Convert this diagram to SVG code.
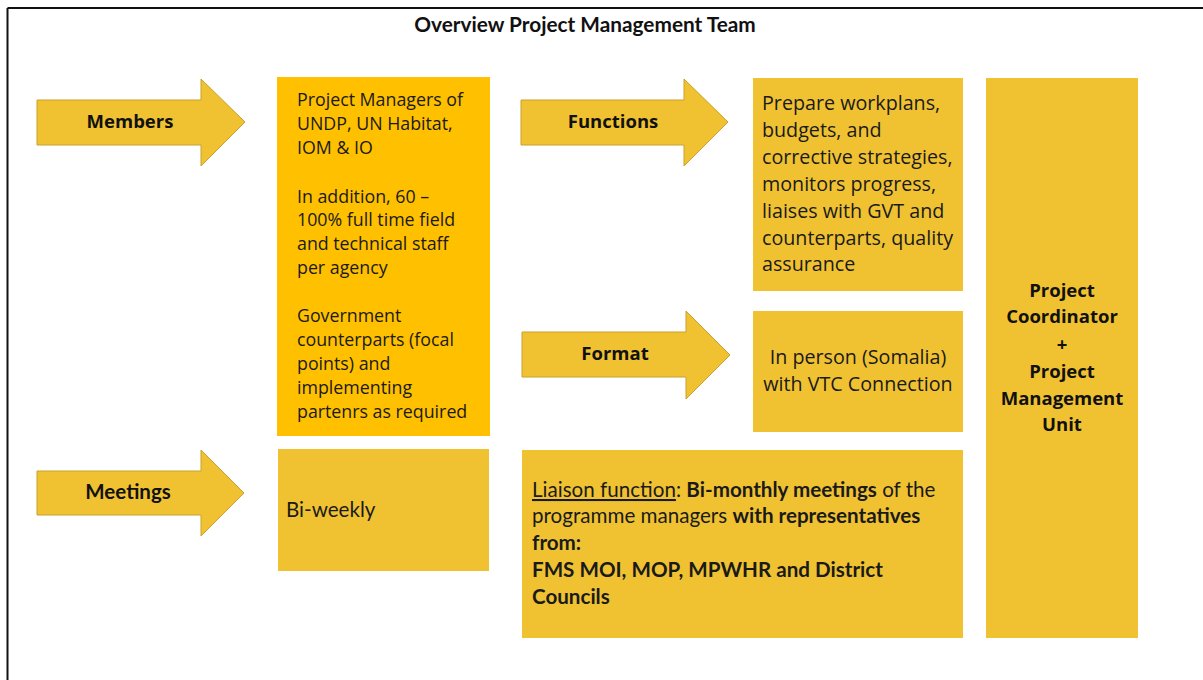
<svg xmlns="http://www.w3.org/2000/svg" width="1203" height="680" viewBox="0 0 1203 680">
<style>
.gold{fill:#F0C232}
.orange{fill:#FFC000}
.arrow{fill:#F0C232;stroke:#C9A12C;stroke-width:1}
.t{font-family:"Open Sans","Liberation Sans",sans-serif;font-size:17.8px;fill:#1a1a1a}
.tf{font-family:"Open Sans","Liberation Sans",sans-serif;font-size:19.7px;fill:#1a1a1a}
.c{font-family:Lato,"Liberation Sans",sans-serif;font-size:20.6px;fill:#1a1a1a}
.lbl{font-family:"Open Sans","Liberation Sans",sans-serif;font-size:18.5px;font-weight:bold;fill:#111;text-anchor:middle}
.pcu{font-family:"Open Sans","Liberation Sans",sans-serif;font-size:18.5px;font-weight:bold;fill:#111;text-anchor:middle}
.b{font-weight:bold}
</style>
<rect x="0" y="0" width="1203" height="680" fill="#ffffff"/>
<g id="frame">
<line x1="7.5" y1="8" x2="1203" y2="8" stroke="#111" stroke-width="2"/>
<line x1="7.5" y1="8" x2="7.5" y2="680" stroke="#111" stroke-width="2"/>
</g>
<text x="585" y="32" font-family="Lato,'Liberation Sans',sans-serif" font-size="20.8" font-weight="bold" fill="#111" text-anchor="middle">Overview Project Management Team</text>
<g id="connectors">
<polygon id="arrow-members" class="arrow" points="37,100 201,100 201,79 245,122 201,166 201,145 37,145"/>
<polygon id="arrow-functions" class="arrow" points="521,100 684,100 684,79 728,122 684,166 684,145 521,145"/>
<polygon id="arrow-format" class="arrow" points="522,332 686,332 686,311 730,355 686,399 686,377 522,377"/>
<polygon id="arrow-meetings" class="arrow" points="37,471 201,471 201,450 244,493 201,536 201,515 37,515"/>
</g>
<g id="members-label"><text class="lbl" x="130" y="128">Members</text></g>
<g id="functions-label"><text class="lbl" x="613" y="128">Functions</text></g>
<g id="format-label"><text class="lbl" x="615" y="360">Format</text></g>
<g id="meetings-label"><text x="128" y="499" font-family="Lato,'Liberation Sans',sans-serif" font-size="20.5" font-weight="bold" fill="#111" text-anchor="middle">Meetings</text></g>
<g id="members-box">
<rect class="orange" x="277" y="77" width="213" height="359"/>
<text class="t" x="297" y="106">Project Managers of</text>
<text class="t" x="297" y="130">UNDP, UN Habitat,</text>
<text class="t" x="297" y="154">IOM &amp; IO</text>
<text class="t" x="297" y="203">In addition, 60 –</text>
<text class="t" x="297" y="226">100% full time field</text>
<text class="t" x="297" y="250">and technical staff</text>
<text class="t" x="297" y="274">per agency</text>
<text class="t" x="297" y="322">Government</text>
<text class="t" x="297" y="346">counterparts (focal</text>
<text class="t" x="297" y="370">points) and</text>
<text class="t" x="297" y="394">implementing</text>
<text class="t" x="297" y="418">partenrs as required</text>
</g>
<g id="functions-box">
<rect class="gold" x="753" y="78" width="210" height="213"/>
<text class="tf" x="762" y="110">Prepare workplans,</text>
<text class="tf" x="762" y="137">budgets, and</text>
<text class="tf" x="762" y="164">corrective strategies,</text>
<text class="tf" x="762" y="191">monitors progress,</text>
<text class="tf" x="762" y="218">liaises with GVT and</text>
<text class="tf" x="762" y="245">counterparts, quality</text>
<text class="tf" x="762" y="271">assurance</text>
</g>
<g id="format-box">
<rect class="gold" x="753" y="311" width="210" height="121"/>
<text class="tf" x="858" y="364" text-anchor="middle">In person (Somalia)</text>
<text class="tf" x="858" y="391" text-anchor="middle">with VTC Connection</text>
</g>
<g id="meetings-box">
<rect class="gold" x="278" y="449" width="211" height="122"/>
<text class="c" x="286" y="517">Bi-weekly</text>
</g>
<g id="liaison-box">
<rect class="gold" x="522" y="450" width="441" height="188"/>
<text class="c" x="532" y="497"><tspan text-decoration="underline">Liaison function</tspan>: <tspan class="b">Bi-monthly meetings</tspan> of the</text>
<text class="c" x="532" y="523">programme managers <tspan class="b">with representatives</tspan></text>
<text class="c b" x="532" y="550">from:</text>
<text class="c b" x="532" y="577">FMS MOI, MOP, MPWHR and District</text>
<text class="c b" x="532" y="604">Councils</text>
</g>
<g id="pcu-box">
<rect class="gold" x="986" y="78" width="152" height="560"/>
<text class="pcu" x="1062" y="297">Project</text>
<text class="pcu" x="1062" y="323">Coordinator</text>
<text class="pcu" x="1062" y="351">+</text>
<text class="pcu" x="1062" y="378">Project</text>
<text class="pcu" x="1062" y="405">Management</text>
<text class="pcu" x="1062" y="431">Unit</text>
</g>
</svg>
